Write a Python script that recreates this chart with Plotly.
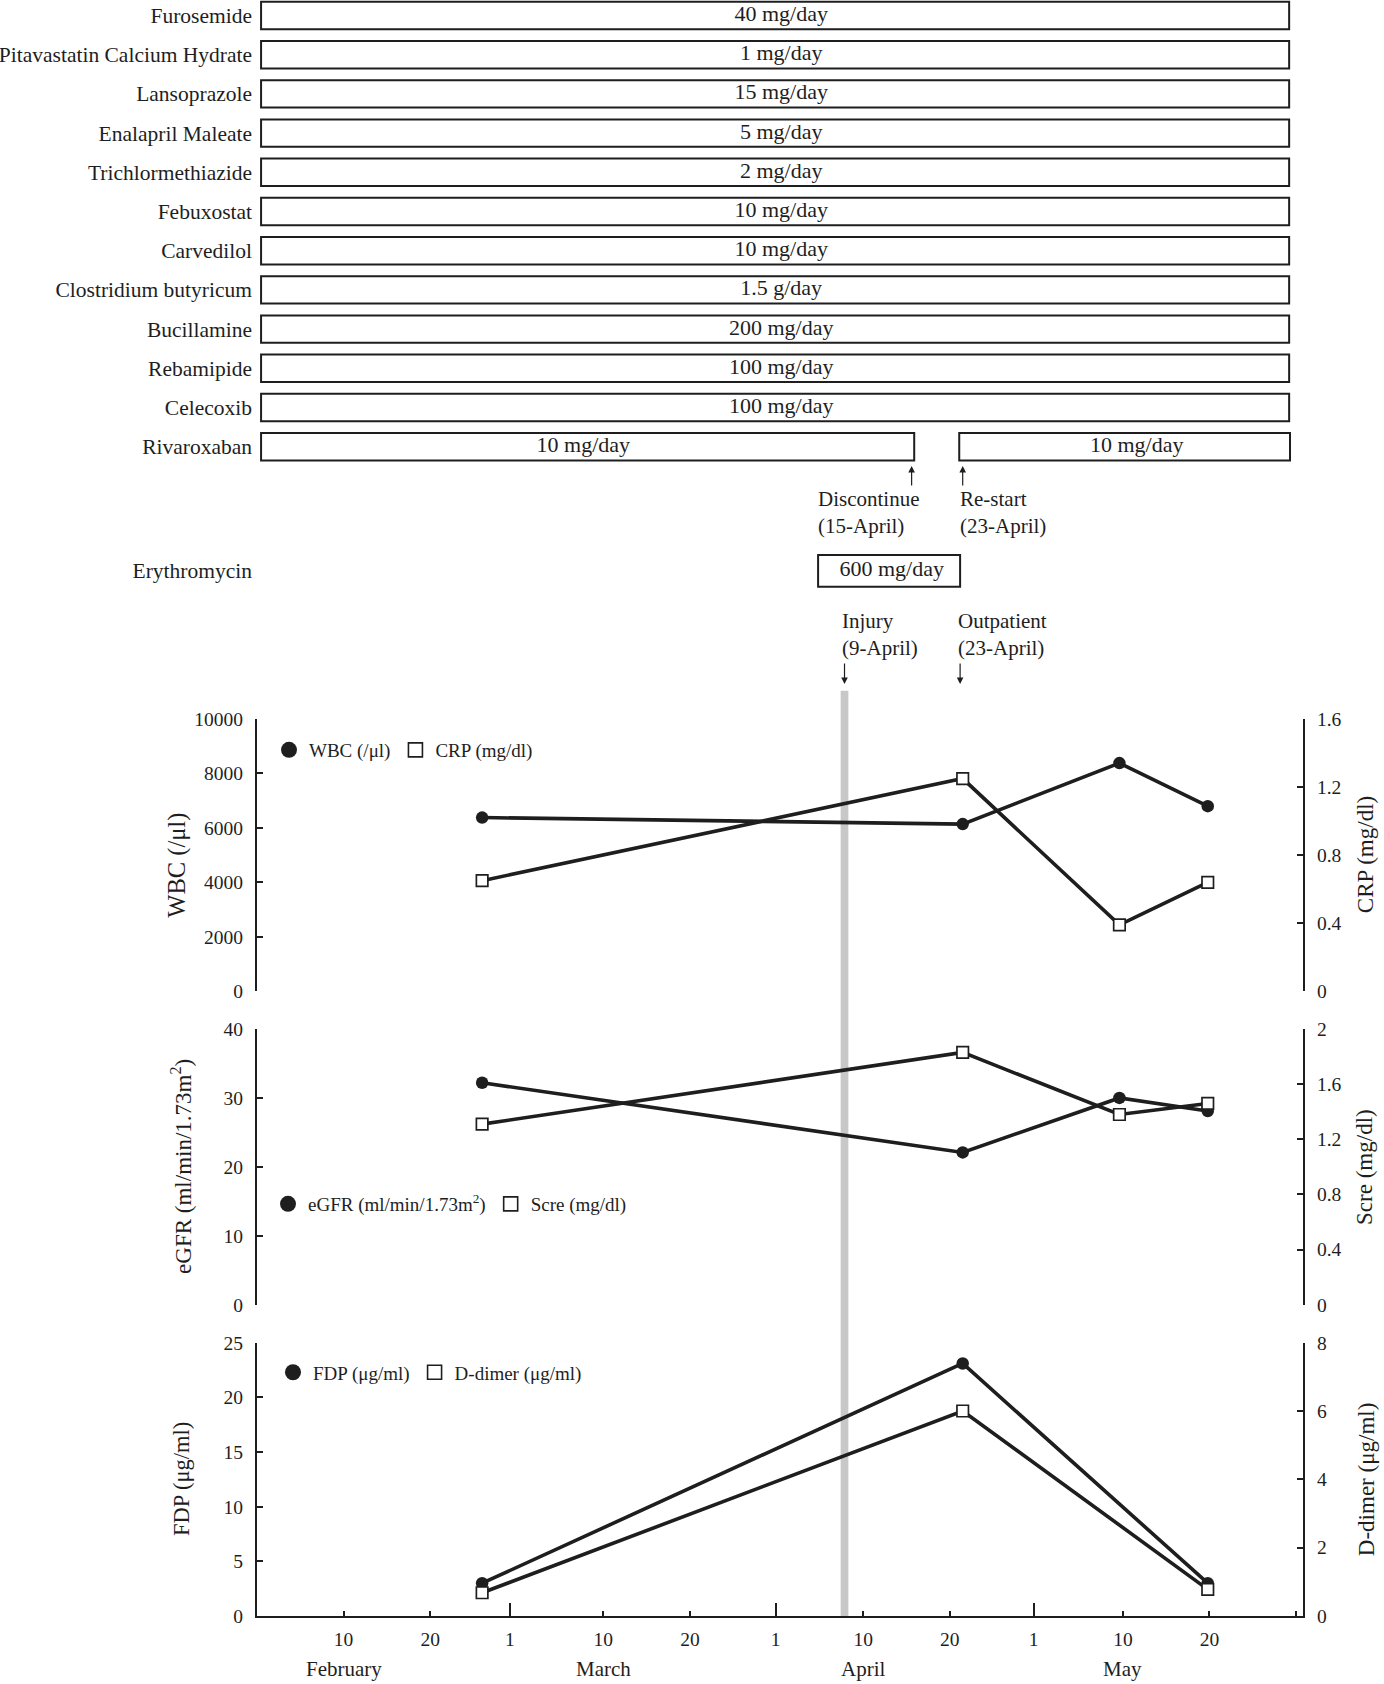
import plotly.graph_objects as go

FONT = "Liberation Serif"
INK = "#1e1e1e"

# ---------------- data ----------------
# timeline axis units (each labelled tick ~10 days)
x_tickvals = [10, 20, 29.2, 40, 50, 59.9, 70, 80, 89.7, 100, 110, 120]
x_ticktext = ["10", "20", "1", "10", "20", "1", "10", "20", "1", "10", "20", ""]
month_starts = [29.2, 59.9, 89.7]
month_names = ["February", "March", "April", "May"]
month_label_x = [10, 40, 70, 100]
x_range = [0, 120.8]

sample_x = [26.0, 81.5, 99.6, 109.8]
wbc = [6380, 6140, 8380, 6800]
crp = [0.65, 1.25, 0.39, 0.64]
egfr = [32.2, 22.1, 30.0, 28.1]
scre = [1.31, 1.83, 1.38, 1.46]
coag_x = [26.0, 81.5, 109.8]
fdp = [3.0, 23.1, 3.0]
ddimer = [0.68, 6.0, 0.78]

drugs = ["Furosemide", "Pitavastatin Calcium Hydrate", "Lansoprazole",
         "Enalapril Maleate", "Trichlormethiazide", "Febuxostat", "Carvedilol",
         "Clostridium butyricum", "Bucillamine", "Rebamipide", "Celecoxib"]
doses = ["40 mg/day", "1 mg/day", "15 mg/day", "5 mg/day", "2 mg/day",
         "10 mg/day", "10 mg/day", "1.5 g/day", "200 mg/day", "100 mg/day",
         "100 mg/day"]
course_start = 0.47
course_end = 119.2

riva_name = "Rivaroxaban"
riva_start = [0.47, 81.1]
riva_end = [75.9, 119.3]
riva_dose = ["10 mg/day", "10 mg/day"]

ery_name = "Erythromycin"
ery_start = 64.8
ery_end = 81.2
ery_dose = "600 mg/day"

discontinue_x = 75.6
restart_x = 81.5
injury_x = 67.85
outpatient_x = 81.2

# ---------------- layout helpers ----------------
PLOT_H = 1616.0


def py(p):
    return (PLOT_H - p) / PLOT_H


ROW0 = 15.5
ROW_STEP = 39.2


def row_of(p):
    return (p - ROW0) / ROW_STEP


drug_rows = list(range(len(drugs)))
riva_row = len(drugs)
ery_row = row_of(570.8)

fig = go.Figure()

# ---------------- medication panel ----------------
bar_style = dict(color="white", line=dict(color=INK, width=2))
fig.add_trace(go.Bar(
    orientation="h", y=drug_rows,
    x=[course_end - course_start] * len(drugs), base=[course_start] * len(drugs),
    width=0.70, marker=bar_style, xaxis="x4", yaxis="y4",
    showlegend=False, hoverinfo="skip"))
fig.add_trace(go.Bar(
    orientation="h", y=[riva_row] * 2,
    x=[e - s for s, e in zip(riva_start, riva_end)], base=riva_start,
    width=0.70, marker=bar_style, xaxis="x4", yaxis="y4",
    showlegend=False, hoverinfo="skip"))
fig.add_trace(go.Bar(
    orientation="h", y=[ery_row], x=[ery_end - ery_start], base=[ery_start],
    width=0.81, marker=bar_style, xaxis="x4", yaxis="y4",
    showlegend=False, hoverinfo="skip"))

# dose labels sit near the middle of each bar (small optical nudges)
full_nudge, riva_nudge, ery_nudge = 0.7, [-0.5, 1.4], 0.3
txt_x = [(course_start + course_end) / 2 + full_nudge] * len(drugs) + \
    [(s + e) / 2 + n for s, e, n in zip(riva_start, riva_end, riva_nudge)] + \
    [(ery_start + ery_end) / 2 + ery_nudge]
txt_y = drug_rows + [riva_row] * 2 + [ery_row]
txt = doses + riva_dose + [ery_dose]
fig.add_trace(go.Scatter(
    x=txt_x, y=txt_y, text=txt, mode="text", textposition="middle center",
    textfont=dict(family=FONT, size=22, color=INK), xaxis="x4", yaxis="y4",
    showlegend=False, hoverinfo="skip"))

# ---------------- lab panels ----------------
line_style = dict(color=INK, width=3.6)
circ = dict(symbol="circle", size=12.5, color=INK)
sq = dict(symbol="square", size=11.5, color="white", line=dict(color=INK, width=1.7))

fig.add_trace(go.Scatter(x=sample_x, y=wbc, xaxis="x", yaxis="y", mode="lines+markers",
                         line=line_style, marker=circ, showlegend=False))
fig.add_trace(go.Scatter(x=sample_x, y=crp, xaxis="x", yaxis="y5", mode="lines+markers",
                         line=line_style, marker=sq, showlegend=False))
fig.add_trace(go.Scatter(x=sample_x, y=egfr, xaxis="x2", yaxis="y2", mode="lines+markers",
                         line=line_style, marker=circ, showlegend=False))
fig.add_trace(go.Scatter(x=sample_x, y=scre, xaxis="x2", yaxis="y6", mode="lines+markers",
                         line=line_style, marker=sq, showlegend=False))
fig.add_trace(go.Scatter(x=coag_x, y=fdp, xaxis="x3", yaxis="y3", mode="lines+markers",
                         line=line_style, marker=circ, showlegend=False))
fig.add_trace(go.Scatter(x=coag_x, y=ddimer, xaxis="x3", yaxis="y7", mode="lines+markers",
                         line=line_style, marker=sq, showlegend=False))

# legend entries (marker only)
leg_circ = dict(symbol="circle", size=16, color=INK)
leg_sq = dict(symbol="square", size=14, color="white", line=dict(color=INK, width=1.6))
for name, mk, lg, ax in [
        ("WBC (/μl)", leg_circ, "legend", "y"), ("CRP (mg/dl)", leg_sq, "legend", "y"),
        ("eGFR (ml/min/1.73m<sup>2</sup>)", leg_circ, "legend2", "y2"),
        ("Scre (mg/dl)", leg_sq, "legend2", "y2"),
        ("FDP (μg/ml)", leg_circ, "legend3", "y3"), ("D-dimer (μg/ml)", leg_sq, "legend3", "y3")]:
    xa = {"y": "x", "y2": "x2", "y3": "x3"}[ax]
    fig.add_trace(go.Scatter(x=[None], y=[None], mode="markers", marker=mk, name=name,
                             legend=lg, xaxis=xa, yaxis=ax, showlegend=True))

# ---------------- axes ----------------
tickfont = dict(family=FONT, size=19.5, color=INK)
yax_common = dict(showline=True, linecolor=INK, linewidth=2, ticks="inside", ticklen=6,
                  tickwidth=1.5, tickcolor=INK, showgrid=False, zeroline=False,
                  tickfont=tickfont, tickmode="array", automargin=False,
                  ticklabelstandoff=8, fixedrange=True)
hidden_x = dict(visible=False, range=x_range, showgrid=False, zeroline=False, fixedrange=True)

dom1 = [py(991.3), py(719)]
dom2 = [py(1304.8), py(1029)]
dom3 = [0, py(1342.7)]


def ticks(vals):
    return dict(tickvals=vals, ticktext=[("%g" % v) for v in vals])


layout = dict(
    width=1384, height=1684,
    margin=dict(l=257, r=81, t=0, b=68),
    paper_bgcolor="white", plot_bgcolor="rgba(0,0,0,0)",
    font=dict(family=FONT, color=INK),
    hovermode=False, barmode="overlay",
    xaxis=dict(hidden_x, domain=[0, 1], anchor="y"),
    xaxis2=dict(hidden_x, domain=[0, 1], anchor="y2"),
    xaxis4=dict(hidden_x, domain=[0, 1], anchor="y4"),
    xaxis3=dict(domain=[0, 1], anchor="y3", range=x_range, showline=True, linecolor=INK,
                linewidth=2, ticks="inside", ticklen=5, tickwidth=1.5, tickcolor=INK,
                tickmode="array", tickvals=x_tickvals, ticktext=x_ticktext,
                tickfont=tickfont, showgrid=False, zeroline=False, automargin=False,
                ticklabelstandoff=5, fixedrange=True,
                minor=dict(tickmode="array", tickvals=month_starts, ticks="inside",
                           ticklen=13, tickwidth=1.5, tickcolor=INK, showgrid=False)),
    yaxis=dict(yax_common, domain=dom1, anchor="x", range=[0, 10000],
               **ticks([0, 2000, 4000, 6000, 8000, 10000])),
    yaxis5=dict(yax_common, overlaying="y", side="right", anchor="x", range=[0, 1.6],
                **ticks([0, 0.4, 0.8, 1.2, 1.6])),
    yaxis2=dict(yax_common, domain=dom2, anchor="x2", range=[0, 40],
                **ticks([0, 10, 20, 30, 40])),
    yaxis6=dict(yax_common, overlaying="y2", side="right", anchor="x2", range=[0, 2],
                **ticks([0, 0.4, 0.8, 1.2, 1.6, 2])),
    yaxis3=dict(yax_common, domain=dom3, anchor="x3", range=[0, 25],
                **ticks([0, 5, 10, 15, 20, 25])),
    yaxis7=dict(yax_common, overlaying="y3", side="right", anchor="x3", range=[0, 8],
                **ticks([0, 2, 4, 6, 8])),
    yaxis4=dict(domain=[py(700), 1], anchor="x4",
                range=[row_of(700), row_of(0)], autorange=False,
                tickmode="array", tickvals=drug_rows + [riva_row, ery_row],
                ticktext=drugs + [riva_name, ery_name],
                tickfont=dict(family=FONT, size=21.5, color=INK),
                showline=False, ticks="", showgrid=False, zeroline=False,
                automargin=False, ticklabelstandoff=4, fixedrange=True),
)

leg_common = dict(orientation="h", xanchor="left", yanchor="middle",
                  font=dict(family=FONT, size=19, color=INK),
                  bgcolor="rgba(0,0,0,0)", borderwidth=0, itemclick=False,
                  itemdoubleclick=False, tracegroupgap=0)
layout["legend"] = dict(leg_common, x=(269 - 257) / 1046, y=py(750))
layout["legend2"] = dict(leg_common, x=(268 - 257) / 1046, y=py(1204))
layout["legend3"] = dict(leg_common, x=(273 - 257) / 1046, y=py(1372.4))

fig.update_layout(**layout)

# injury band
fig.add_shape(type="line", xref="x3", yref="paper", x0=injury_x, x1=injury_x,
              y0=0, y1=py(690.7), line=dict(color="#c8c8c8", width=7.7), layer="below")

ann = []
# axis titles
for text, xp, yr, yy, sz in [("WBC (/μl)", -0.0765, "y domain", 0.465, 24.5),
                             ("eGFR (ml/min/1.73m<sup>2</sup>)", -0.0717, "y2 domain", 0.5, 23),
                             ("FDP (μg/ml)", -0.072, "y3 domain", 0.5, 22.5),
                             ("CRP (mg/dl)", 1.0593, "y domain", 0.5, 23),
                             ("Scre (mg/dl)", 1.0593, "y2 domain", 0.5, 23),
                             ("D-dimer (μg/ml)", 1.061, "y3 domain", 0.5, 23)]:
    ann.append(dict(text=text, xref="paper", yref=yr, x=xp, y=yy, textangle=-90,
                    showarrow=False, font=dict(family=FONT, size=sz, color=INK),
                    xanchor="center", yanchor="middle"))
# month labels
for name, mx in zip(month_names, month_label_x):
    ann.append(dict(text=name, xref="x3", yref="paper", x=mx, y=py(1669),
                    showarrow=False, font=dict(family=FONT, size=21, color=INK),
                    xanchor="center", yanchor="middle"))
# event notes
ev = dict(family=FONT, size=21, color=INK)
for text, xx, yy in [
        ("Discontinue<br>(15-April)", 64.6, row_of(512.5)),
        ("Re-start<br>(23-April)", 81.0, row_of(512.5)),
        ("Injury<br>(9-April)", 67.3, row_of(634.7)),
        ("Outpatient<br>(23-April)", 80.7, row_of(634.7))]:
    ann.append(dict(text=text, xref="x4", yref="y4", x=xx, y=yy, showarrow=False,
                    font=ev, xanchor="left", yanchor="middle", align="left"))
# small arrows (head point, tail offset in px)
arrow_style = dict(showarrow=True, arrowhead=2, arrowsize=1.1, arrowwidth=1.2,
                   arrowcolor=INK, standoff=0, startstandoff=0, text="", ax=0)
for xx, head_p, tail_dy in [(discontinue_x, 466, 21), (restart_x, 466, 21),
                            (injury_x, 684, -22), (outpatient_x, 684, -22)]:
    ann.append(dict(arrow_style, xref="x4", yref="y4", x=xx, y=row_of(head_p), ay=tail_dy))
fig.update_layout(annotations=ann)

fig.write_html("out.html", post_script="document.body.style.margin='0px';",
               config={"displayModeBar": False})
